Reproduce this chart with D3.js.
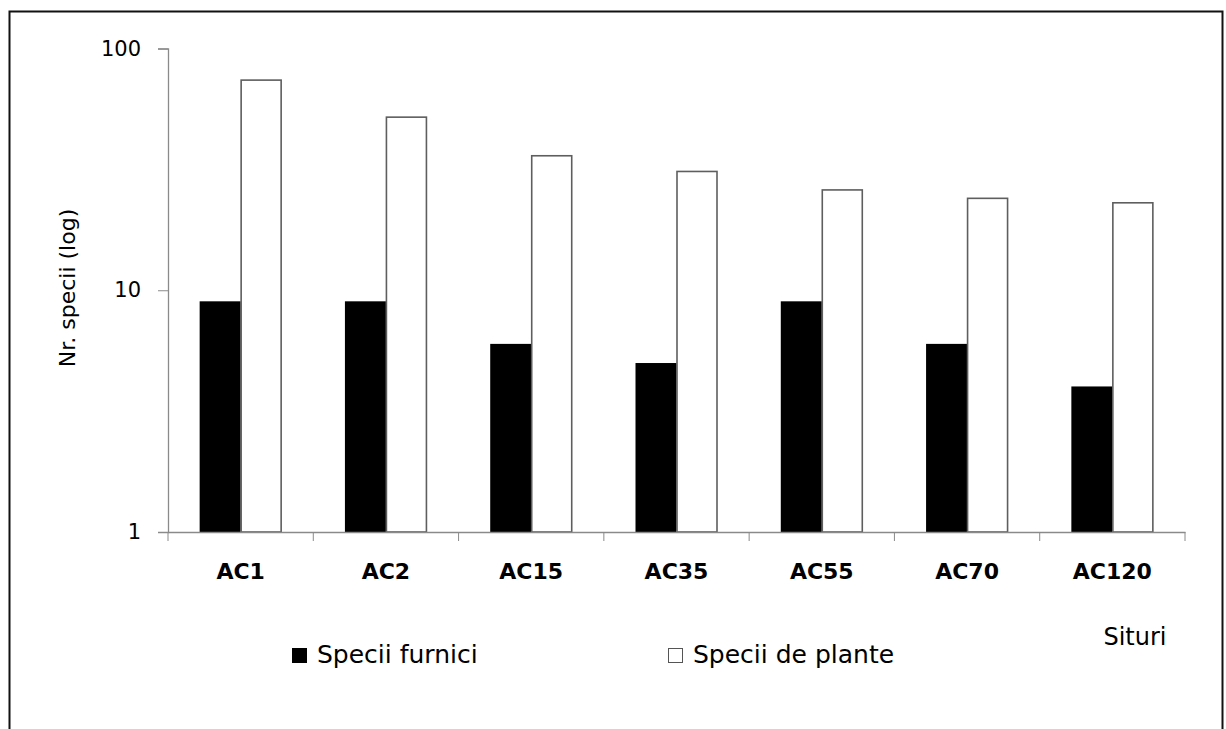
<!DOCTYPE html>
<html>
<head>
<meta charset="utf-8">
<script src="https://cdn.jsdelivr.net/npm/d3@7"></script>
<style>
  body { margin: 0; background: #fff; }
  text { font-family: "DejaVu Sans", "Noto Sans", sans-serif; fill: #000; }
</style>
</head>
<body>
<script>
// sites and species counts
const sites = ["AC1", "AC2", "AC15", "AC35", "AC55", "AC70", "AC120"];
const furnici = [9, 9, 6, 5, 9, 6, 4];
const plante = [74, 52, 36, 31, 26, 24, 23];
const yTicks = [1, 10, 100];
const seriesNames = ["Specii furnici", "Specii de plante"];

const W = 1226, H = 729;
const x0 = 168, x1 = 1185, yTop = 48.5, yBot = 532;
const FONT = "'DejaVu Sans', 'Noto Sans', sans-serif";

const svg = d3.select("body").append("svg")
    .attr("width", W)
    .attr("height", H);

// outer frame (bottom edge is cut off in the original)
svg.append("rect")
    .attr("x", 9.5).attr("y", 11.5)
    .attr("width", 1213).attr("height", 760)
    .attr("fill", "none")
    .attr("stroke", "#111")
    .attr("stroke-width", 2);

let xScale = d3.scaleBand()
    .domain(sites)
    .range([x0, x1]);
let yScale = d3.scaleLog()
    .domain([1, 100])
    .range([yBot, yTop]);

const barW = 41;

let groups = svg.append("g")
    .selectAll("g")
    .data(sites.map((s, i) => ({site: s, a: furnici[i], p: plante[i]})))
    .enter()
    .append("g");

groups.append("rect")
    .attr("x", d => xScale(d.site) + xScale.bandwidth() / 2 - barW)
    .attr("y", d => yScale(d.a))
    .attr("width", barW)
    .attr("height", d => yBot - yScale(d.a))
    .attr("fill", "#000");

groups.append("rect")
    .attr("x", d => xScale(d.site) + xScale.bandwidth() / 2 + 0.5)
    .attr("y", d => yScale(d.p))
    .attr("width", barW - 1)
    .attr("height", d => yBot - yScale(d.p))
    .attr("fill", "#fff")
    .attr("stroke", "#5e5e5e")
    .attr("stroke-width", 1.6);

// y axis
let yAxis = d3.axisLeft(yScale)
    .tickValues(yTicks)
    .tickFormat(d3.format("d"))
    .tickSize(10)
    .tickPadding(17);
let yg = svg.append("g")
    .attr("transform", `translate(${x0},0)`)
    .call(yAxis);
yg.select(".domain").attr("stroke", "#8a8a8a").attr("stroke-width", 1.3);
yg.selectAll(".tick line").attr("stroke", "#8a8a8a");
yg.selectAll(".tick text")
    .style("font-family", FONT)
    .style("font-size", "21px")
    .attr("fill", "#000");

// x axis
let xAxis = d3.axisBottom(xScale).tickSize(0).tickPadding(31);
let xg = svg.append("g")
    .attr("transform", `translate(0,${yBot})`)
    .call(xAxis);
xg.select(".domain").attr("stroke", "#8a8a8a").attr("stroke-width", 1.3);
xg.selectAll(".tick text")
    .style("font-family", FONT)
    .style("font-size", "22px")
    .attr("font-weight", "bold")
    .attr("fill", "#000");
// boundary ticks between categories
xg.append("g")
    .selectAll("line")
    .data(sites.concat(["end"]))
    .enter()
    .append("line")
    .attr("x1", (d, i) => i < sites.length ? xScale(d) : x1)
    .attr("x2", (d, i) => i < sites.length ? xScale(d) : x1)
    .attr("y1", 0)
    .attr("y2", 9)
    .attr("stroke", "#8a8a8a");

// axis titles
svg.append("text")
    .attr("transform", "translate(75,288) rotate(-90)")
    .attr("text-anchor", "middle")
    .style("font-size", "22px")
    .text("Nr. specii (log)");

svg.append("text")
    .attr("x", 1135)
    .attr("y", 645)
    .attr("text-anchor", "middle")
    .style("font-size", "24px")
    .text("Situri");

// legend
const legX = [292, 668];
let leg = svg.append("g")
    .selectAll("g")
    .data(seriesNames)
    .enter()
    .append("g")
    .attr("transform", (d, i) => `translate(${legX[i]},648)`);
leg.append("rect")
    .attr("x", (d, i) => i ? 0.5 : 0)
    .attr("y", (d, i) => i ? 0.5 : 0)
    .attr("width", (d, i) => i ? 14 : 15)
    .attr("height", (d, i) => i ? 14 : 15)
    .attr("fill", (d, i) => i ? "#fff" : "#000")
    .attr("stroke", (d, i) => i ? "#555" : "none");
leg.append("text")
    .attr("x", 25)
    .attr("y", 15)
    .style("font-size", "25px")
    .text(d => d);
</script>
</body>
</html>
